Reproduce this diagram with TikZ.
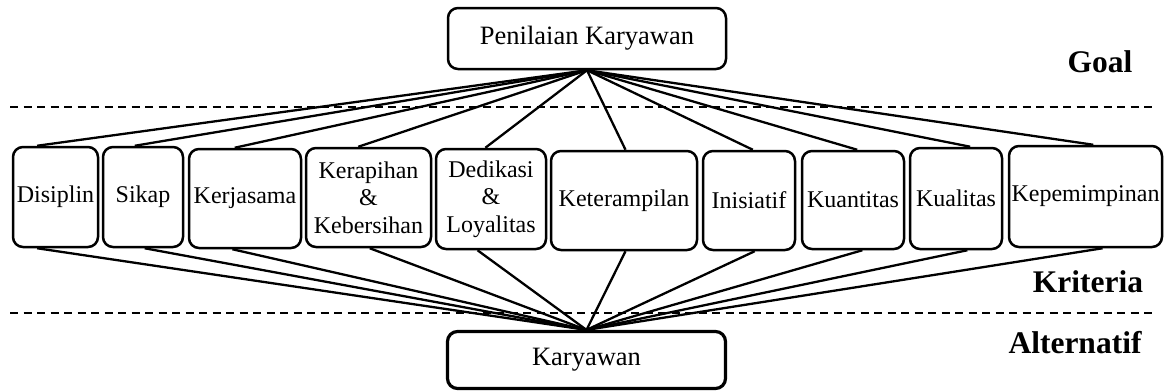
\documentclass[tikz,border=0pt]{standalone}
\usepackage{fontspec}
\setmainfont{Liberation Serif}
\usetikzlibrary{calc}
\begin{document}
\begin{tikzpicture}[x=1pt,y=-1pt,
  crit/.style={draw,line width=2.5pt,rounded corners=10pt,inner sep=0pt,align=center,
    font=\fontsize{24}{27.5}\selectfont},
  mainbox/.style={draw,line width=2.5pt,rounded corners=10pt,inner sep=0pt,
    font=\fontsize{26.5}{30}\selectfont},
  conn/.style={line width=2.3pt},
  sep/.style={line width=1.5pt,dash pattern=on 8pt off 5.5pt},
  lvl/.style={font=\fontsize{31.5}{34}\selectfont\bfseries}]
\useasboundingbox (0,0) rectangle (1164,391);
\node[mainbox,minimum width=278pt,minimum height=61pt] (top) at (587,38.5) {Penilaian Karyawan};
\node[mainbox,line width=3.2pt,minimum width=278pt,minimum height=57pt] (bot) at (586.5,360) {Karyawan};
\node[crit,minimum width=85pt,minimum height=100pt] (b1) at (55.5,197) {Disiplin};
\node[crit,minimum width=80pt,minimum height=100pt] (b2) at (143,197) {Sikap};
\node[crit,minimum width=112pt,minimum height=99pt] (b3) at (245,198.5) {Kerjasama};
\node[crit,minimum width=125pt,minimum height=99pt] (b4) at (368.5,197.5) {Kerapihan\\\&\\Kebersihan};
\node[crit,minimum width=110pt,minimum height=100pt] (b5) at (491,199) {Dedikasi\\\&\\Loyalitas};
\node[crit,minimum width=146pt,minimum height=99pt] (b6) at (624,200.5) {Keterampilan};
\node[crit,minimum width=92pt,minimum height=99pt] (b7) at (749,200.5) {Inisiatif};
\node[crit,minimum width=102pt,minimum height=98pt] (b8) at (853,200) {Kuantitas};
\node[crit,minimum width=92pt,minimum height=101pt] (b9) at (956,198.5) {Kualitas};
\node[crit,minimum width=153pt,minimum height=101pt] (b10) at (1085.5,196.5) {Kepemimpinan};
\foreach \n/\ft/\fb in {b1/0.29/0.29,b2/0.40/0.52,b3/0.41/0.39,b4/0.42/0.51,b5/0.45/0.38,
  b6/0.51/0.51,b7/0.54/0.56,b8/0.54/0.59,b9/0.65/0.62,b10/0.55/0.61}{
  \draw[conn] (top.south) -- ($(\n.north west)!\ft!(\n.north east)$);
  \draw[conn] (bot.north) -- ($(\n.south west)!\fb!(\n.south east)$);
}
\coordinate (d1l) at (10,107);
\coordinate (d1r) at (1152,107);
\coordinate (d2l) at (10,313);
\coordinate (d2r) at (1152,313);
\draw[sep] (d1l) -- (d1r);
\draw[sep] (d2l) -- (d2r);
\node[lvl] (goal) at (1100,62) {Goal};
\node[lvl] (krit) at (1088,282) {Kriteria};
\node[lvl] (alt) at (1075,343) {Alternatif};
\end{tikzpicture}
\end{document}
